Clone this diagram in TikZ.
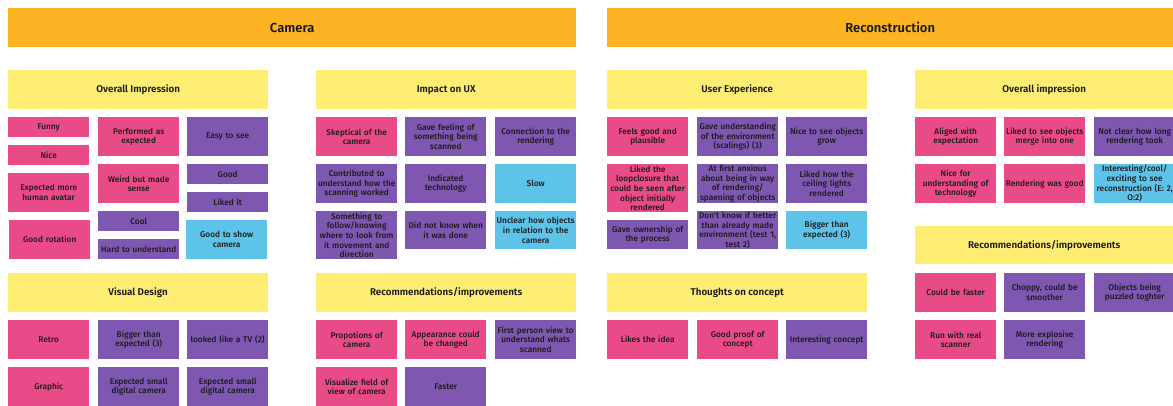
\documentclass[tikz,border=0pt]{standalone}
\usepackage{fontspec}
\setmainfont{Fira Sans}
\newfontfamily\notefamily{Fira Sans}[UprightFont=* Medium, BoldFont=* SemiBold]
\definecolor{orangec}{HTML}{FBB324}
\definecolor{yellowc}{HTML}{FDED72}
\definecolor{pinkc}{HTML}{E94B89}
\definecolor{purplec}{HTML}{7D57B0}
\definecolor{bluec}{HTML}{5DC3E8}
\definecolor{inkc}{HTML}{1A1A1A}
\tikzset{
  x=1pt, y=-1pt,
  note/.style={anchor=north west, inner sep=0.5pt, text width=80pt, minimum width=81pt,
    minimum height=39pt, align=center, text=inkc,
    font=\notefamily\fontsize{8.3}{9.7}\selectfont},
  h1/.style={minimum height=20pt},
  h2/.style={minimum height=39pt},
  h3/.style={minimum height=48pt},
  pk/.style={note, fill=pinkc},
  pu/.style={note, fill=purplec},
  bl/.style={note, fill=bluec},
  topic/.style={anchor=north west, inner sep=0pt, minimum width=568pt, minimum height=39pt,
    fill=orangec, text=inkc, font=\notefamily\bfseries\fontsize{13}{15}\selectfont},
  section/.style={anchor=north west, inner sep=0pt, minimum width=260pt, minimum height=39pt,
    fill=yellowc, text=inkc, font=\notefamily\bfseries\fontsize{9.8}{11}\selectfont},
}
\begin{document}
\begin{tikzpicture}
\useasboundingbox (0,0) rectangle (1173,405);
\clip (0,0) rectangle (1173,405);

% main topics
\node[topic] (camera) at (8,8) {Camera};
\node[topic, minimum width=566pt] (recon) at (607,8) {Reconstruction};

% ---------- Camera: Overall Impression ----------
\node[section] (ci) at (8,70) {Overall Impression};
\node[pk, h1] (funny) at (8,117) {Funny};
\node[pk, h1] (nice) at (8,145) {Nice};
\node[pk] (avatar) at (8,173) {Expected more\\human avatar};
\node[pk] (rotation) at (9,220) {Good rotation};
\node[pk] (performed) at (98,117) {Performed as\\expected};
\node[pk] (weird) at (98,164) {Weird but made\\sense};
\node[pu, h1] (cool) at (98,211) {Cool};
\node[pu, h1] (hard) at (98,239) {Hard to understand};
\node[pu] (easy) at (187,117) {Easy to see};
\node[pu, h1] (good) at (187,164) {Good};
\node[pu, h1] (liked) at (187,192) {Liked it};
\node[bl] (showcam) at (186,220) {Good to show\\camera};

% ---------- Camera: Impact on UX ----------
\node[section] (cu) at (316,70) {Impact on UX};
\node[pk] (skeptical) at (316,117) {Skeptical of the\\camera};
\node[pu] (contrib) at (316,164) {Contributed to\\understand how the\\scanning worked};
\node[pu, h3] (follow) at (316,211) {Something to\\follow/knowing\\where to look from\\it movement and\\direction};
\node[pu] (feeling) at (405,117) {Gave feeling of\\something being\\scanned};
\node[pu] (indicated) at (405,164) {Indicated\\technology};
\node[pu, minimum height=38pt] (notknow) at (405,211) {Did not know when\\it was done};
\node[pu] (connection) at (495,117) {Connection to the\\rendering};
\node[bl] (slow) at (495,164) {Slow};
\node[bl, minimum height=38pt] (unclear) at (495,211) {Unclear how objects\\in relation to the\\camera};

% ---------- Camera: Visual Design ----------
\node[section] (cv) at (8,273) {Visual Design};
\node[pk] (retro) at (8,320) {Retro};
\node[pk] (graphic) at (8,367) {Graphic};
\node[pu] (bigger) at (98,320) {Bigger than\\expected (3)};
\node[pu] (small1) at (98,367) {Expected small\\digital camera};
\node[pu] (tv) at (187,320) {looked like a TV (2)};
\node[pu] (small2) at (187,367) {Expected small\\digital camera};

% ---------- Camera: Recommendations ----------
\node[section] (cr) at (316,273) {Recommendations/improvements};
\node[pk] (propotions) at (316,320) {Propotions of\\camera};
\node[pk] (fov) at (316,367) {Visualize field of\\view of camera};
\node[pk] (appearance) at (405,320) {Appearance could\\be changed};
\node[pu] (faster) at (405,367) {Faster};
\node[pu] (firstperson) at (495,320) {First person view to\\understand whats\\scanned};

% ---------- Reconstruction: User Experience ----------
\node[section] (ru) at (607,70) {User Experience};
\node[pk] (plausible) at (607,117) {Feels good and\\plausible};
\node[pk, h3] (loop) at (607,164) {Liked the\\loopclosure that\\could be seen after\\object initially\\rendered};
\node[pu, minimum height=29pt] (ownership) at (607,220) {Gave ownership of\\the process};
\node[pu] (scalings) at (697,117) {Gave understanding\\of the environment\\(scalings) (3)};
\node[pu] (anxious) at (697,164) {At first anxious\\about being in way\\of rendering/\\spaening of objects};
\node[pu, minimum height=38pt] (dontknow) at (697,211) {Don't know if better\\than already made\\environment (test 1,\\test 2)};
\node[pu] (grow) at (786,117) {Nice to see objects\\grow};
\node[pu] (ceiling) at (786,164) {Liked how the\\ceiling lights\\rendered};
\node[bl, minimum height=38pt] (biggerr) at (786,211) {Bigger than\\expected (3)};

% ---------- Reconstruction: Thoughts on concept ----------
\node[section] (rt) at (607,273) {Thoughts on concept};
\node[pk] (idea) at (607,320) {Likes the idea};
\node[pk] (proof) at (697,320) {Good proof of\\concept};
\node[pu] (interesting) at (786,320) {Interesting concept};

% ---------- Reconstruction: Overall impression ----------
\node[section, minimum width=258pt] (ro) at (915,70) {Overall impression};
\node[pk] (aligned) at (915,117) {Aliged with\\expectation};
\node[pk] (nicefor) at (915,164) {Nice for\\understanding of\\technology};
\node[pk] (merge) at (1004,117) {Liked to see objects\\merge into one};
\node[pk] (renderinggood) at (1004,164) {Rendering was good};
\node[pu] (notclear) at (1094,117) {Not clear how long\\rendering took};
\node[bl] (exciting) at (1094,164) {Interesting/cool/\\exciting to see\\reconstruction (E: 2,\\O:2)};

% ---------- Reconstruction: Recommendations ----------
\node[section, minimum width=258pt, minimum height=38pt] (rr) at (915,226) {Recommendations/improvements};
\node[pk] (couldfaster) at (915,273) {Could be faster};
\node[pu] (choppy) at (1004,273) {Choppy, could be\\smoother};
\node[pu] (puzzled) at (1094,273) {Objects being\\puzzled toghter};
\node[pk] (realscanner) at (915,320) {Run with real\\scanner};
\node[pu] (explosive) at (1004,320) {More explosive\\rendering};
\end{tikzpicture}
\end{document}
